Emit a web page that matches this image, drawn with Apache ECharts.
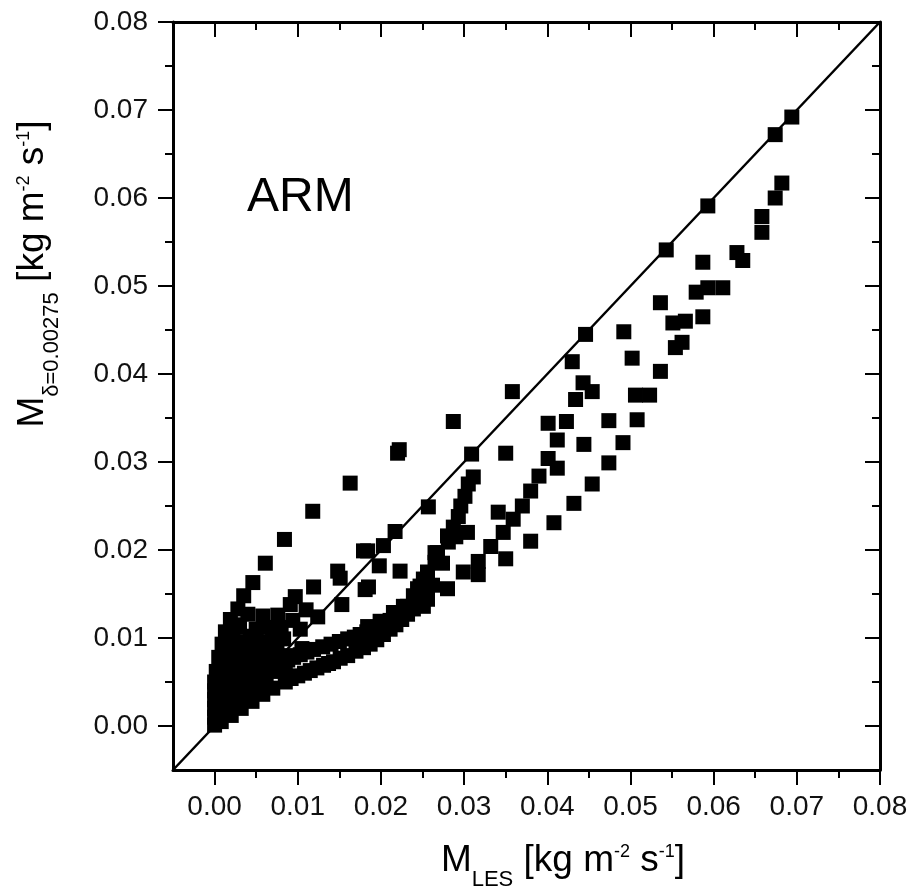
<!DOCTYPE html>
<html>
<head>
<meta charset="utf-8">
<title>ARM scatter</title>
<script src="https://cdn.jsdelivr.net/npm/echarts@6/dist/echarts.min.js"></script>
<style>
  html, body { margin: 0; padding: 0; background: #fff; }
  #chart { width: 913px; height: 892px; }
</style>
</head>
<body>
<div id="chart"></div>
<script>
// tick values (both axes)
var tickValues = [0, 0.01, 0.02, 0.03, 0.04, 0.05, 0.06, 0.07, 0.08];
var minorTickValues = [0.005, 0.015, 0.025, 0.035, 0.045, 0.055, 0.065, 0.075];
// 1:1 line end points
var lineEnds = [[-0.005, -0.005], [0.08, 0.08]];

// upper branch (above the 1:1 line)
var upperBranch = [
  [0.0002, 0.0062], [0.0005, 0.0078], [0.0009, 0.0093], [0.0013, 0.0107], [0.0019, 0.0121],
  [0.0028, 0.0133], [0.0035, 0.0148], [0.0046, 0.0163], [0.0061, 0.0185], [0.0084, 0.0212],
  [0.0118, 0.0244], [0.0163, 0.0276], [0.0220, 0.0310], [0.0222, 0.0314], [0.0287, 0.0346],
  [0.0358, 0.0380]
];
// points lying on the 1:1 line
var onLine = [
  [0.0124, 0.0124], [0.0217, 0.0221], [0.0257, 0.0249], [0.0309, 0.0309], [0.0446, 0.0445],
  [0.0543, 0.0541], [0.0593, 0.0591], [0.0674, 0.0672], [0.0694, 0.0692]
];
// scattered points near the line at small values
var nearLine = [
  [0.0035, 0.0095], [0.0043, 0.0102], [0.0050, 0.0110], [0.0058, 0.0125], [0.0076, 0.0126],
  [0.0091, 0.0138], [0.0097, 0.0147], [0.0119, 0.0158], [0.0148, 0.0176], [0.0153, 0.0138],
  [0.0151, 0.0168], [0.0179, 0.0199], [0.0184, 0.0199], [0.0203, 0.0205], [0.0198, 0.0182],
  [0.0223, 0.0176], [0.0185, 0.0158], [0.0181, 0.0155], [0.0052, 0.0076], [0.0067, 0.0087],
  [0.0083, 0.0099], [0.0103, 0.0110], [0.0045, 0.0060], [0.0058, 0.0066], [0.0072, 0.0072],
  [0.0088, 0.0080], [0.0105, 0.0088], [0.0030, 0.0115], [0.0040, 0.0127], [0.0065, 0.0112],
  [0.0070, 0.0098], [0.0060, 0.0088], [0.0080, 0.0112], [0.0094, 0.0120], [0.0110, 0.0132]
];
// steep middle band
var steepBand = [
  [0.0184, 0.0113], [0.0199, 0.0119], [0.0215, 0.0129], [0.0227, 0.0136], [0.0239, 0.0148],
  [0.0247, 0.0159], [0.0280, 0.0156], [0.0256, 0.0175], [0.0265, 0.0186], [0.0265, 0.0197],
  [0.0281, 0.0209], [0.0287, 0.0226], [0.0304, 0.0220], [0.0293, 0.0238], [0.0296, 0.0250],
  [0.0301, 0.0261], [0.0305, 0.0275], [0.0311, 0.0283], [0.0251, 0.0167], [0.0244, 0.0156],
  [0.0251, 0.0136], [0.0232, 0.0136], [0.0256, 0.0144], [0.0268, 0.0197], [0.0280, 0.0216],
  [0.0262, 0.0160], [0.0274, 0.0185], [0.0290, 0.0215]
];
// lower band, upper row
var lowerBandTop = [
  [0.0018, 0.0014], [0.0030, 0.0022], [0.0040, 0.0030], [0.0050, 0.0040], [0.0062, 0.0050],
  [0.0076, 0.0062], [0.0088, 0.0075], [0.0103, 0.0081], [0.0119, 0.0087], [0.0140, 0.0093],
  [0.0160, 0.0099], [0.0175, 0.0104], [0.0191, 0.0110], [0.0211, 0.0120], [0.0221, 0.0127],
  [0.0095, 0.0078], [0.0111, 0.0084], [0.0130, 0.0090], [0.0150, 0.0096], [0.0168, 0.0101],
  [0.0183, 0.0107], [0.0201, 0.0115]
];
// lower band, lower row
var lowerBandBottom = [
  [0.0000, 0.0001], [0.0008, 0.0005], [0.0020, 0.0012], [0.0032, 0.0020], [0.0045, 0.0028],
  [0.0058, 0.0036], [0.0070, 0.0043], [0.0085, 0.0050], [0.0100, 0.0057], [0.0115, 0.0063],
  [0.0131, 0.0069], [0.0143, 0.0073], [0.0160, 0.0080], [0.0179, 0.0089], [0.0195, 0.0098],
  [0.0211, 0.0110], [0.0225, 0.0121], [0.0239, 0.0133], [0.0092, 0.0054], [0.0108, 0.0060],
  [0.0123, 0.0066], [0.0137, 0.0071], [0.0151, 0.0077], [0.0170, 0.0085], [0.0187, 0.0093],
  [0.0203, 0.0104], [0.0218, 0.0115], [0.0232, 0.0127]
];
// dense cluster close to the origin
var originCluster = [
  [0.0000, 0.0010], [0.0000, 0.0020], [0.0000, 0.0030], [0.0000, 0.0040], [0.0000, 0.0050],
  [0.0007, 0.0015], [0.0007, 0.0028], [0.0007, 0.0042], [0.0007, 0.0056], [0.0007, 0.0068],
  [0.0014, 0.0020], [0.0014, 0.0035], [0.0014, 0.0050], [0.0014, 0.0065], [0.0014, 0.0080],
  [0.0014, 0.0095], [0.0022, 0.0025], [0.0022, 0.0040], [0.0022, 0.0055], [0.0022, 0.0070],
  [0.0022, 0.0085], [0.0022, 0.0105], [0.0031, 0.0030], [0.0031, 0.0045], [0.0031, 0.0060],
  [0.0031, 0.0075], [0.0031, 0.0090], [0.0040, 0.0038], [0.0040, 0.0052], [0.0040, 0.0066],
  [0.0040, 0.0080], [0.0050, 0.0047], [0.0050, 0.0060], [0.0050, 0.0072], [0.0050, 0.0088],
  [0.0060, 0.0055], [0.0060, 0.0095], [0.0070, 0.0064], [0.0070, 0.0105], [0.0080, 0.0070],
  [0.0045, 0.0092], [0.0055, 0.0078], [0.0065, 0.0075], [0.0075, 0.0085], [0.0085, 0.0065],
  [0.0026, 0.0112], [0.0018, 0.0100], [0.0010, 0.0082]
];
// lower right branch
var lowerRight = [
  [0.0299, 0.0175], [0.0317, 0.0172], [0.0317, 0.0187], [0.0332, 0.0204], [0.0350, 0.0190],
  [0.0347, 0.0220], [0.0380, 0.0210], [0.0408, 0.0231], [0.0432, 0.0253], [0.0454, 0.0275],
  [0.0474, 0.0299], [0.0491, 0.0322], [0.0474, 0.0347], [0.0508, 0.0348], [0.0506, 0.0376],
  [0.0523, 0.0376], [0.0536, 0.0403], [0.0554, 0.0430], [0.0562, 0.0436], [0.0587, 0.0465],
  [0.0551, 0.0458], [0.0566, 0.0460], [0.0593, 0.0498], [0.0611, 0.0498], [0.0579, 0.0493],
  [0.0628, 0.0538], [0.0635, 0.0529], [0.0658, 0.0561], [0.0658, 0.0579], [0.0674, 0.0600],
  [0.0682, 0.0617]
];
// middle right branch
var middleRight = [
  [0.0341, 0.0243], [0.0359, 0.0235], [0.0370, 0.0250], [0.0380, 0.0267], [0.0390, 0.0284],
  [0.0401, 0.0304], [0.0412, 0.0293], [0.0412, 0.0325], [0.0444, 0.0320], [0.0401, 0.0344],
  [0.0423, 0.0346], [0.0434, 0.0371], [0.0443, 0.0390], [0.0454, 0.0380], [0.0430, 0.0414],
  [0.0492, 0.0448], [0.0502, 0.0418], [0.0536, 0.0481], [0.0587, 0.0527], [0.0350, 0.0310]
];

var FONT = "'Liberation Sans', Arial, sans-serif";

function axisSet(dim, pos, values, len, inside, withLine, withLabel) {
  return {
    type: 'value',
    position: pos,
    min: -0.005,
    max: 0.08,
    splitLine: { show: false },
    axisLine: { show: withLine, onZero: false, lineStyle: { color: '#000', width: 3 } },
    axisTick: {
      show: true, inside: inside, length: len, customValues: values,
      lineStyle: { color: '#000', width: 2 }
    },
    axisLabel: {
      show: withLabel,
      customValues: values,
      margin: dim === 'x' ? 23 : 25,
      color: '#111',
      fontFamily: FONT,
      fontSize: 28,
      formatter: function (v) { return v.toFixed(2); }
    }
  };
}

var titleRich = {
  m: { fontSize: 37, fontFamily: FONT, color: '#000', lineHeight: 60 },
  sub: { fontSize: 22, fontFamily: FONT, color: '#000', verticalAlign: 'bottom' },
  sup: { fontSize: 18, fontFamily: FONT, color: '#000', height: 43, verticalAlign: 'top' }
};

function sq(name, data) {
  return {
    name: name, type: 'scatter', data: data,
    symbol: 'rect', symbolSize: 15,
    itemStyle: { color: '#000', opacity: 1 }
  };
}

var chart = echarts.init(document.getElementById('chart'));
chart.setOption({
  animation: false,
  backgroundColor: '#fff',
  grid: { left: 173, right: 33, top: 22, bottom: 122, containLabel: false },
  xAxis: [
    axisSet('x', 'bottom', tickValues, 15, false, true, true),
    axisSet('x', 'bottom', minorTickValues, 8, false, false, false),
    axisSet('x', 'top', tickValues, 15, true, true, false),
    axisSet('x', 'top', minorTickValues, 8, true, false, false)
  ],
  yAxis: [
    axisSet('y', 'left', tickValues, 15, false, true, true),
    axisSet('y', 'left', minorTickValues, 8, false, false, false),
    axisSet('y', 'right', tickValues, 15, true, true, false),
    axisSet('y', 'right', minorTickValues, 8, true, false, false)
  ],
  graphic: [
    {
      type: 'text', x: 247, y: 198,
      style: { text: 'ARM', fontSize: 48, fontFamily: FONT, fill: '#000', align: 'left', verticalAlign: 'middle' }
    },
    {
      type: 'text', x: 563, y: 861,
      style: {
        text: '{m|M}{sub|LES}{m| [kg m}{sup|-2}{m| s}{sup|-1}{m|]}',
        rich: titleRich, align: 'center', verticalAlign: 'middle'
      }
    },
    {
      type: 'text', x: 33, y: 274, rotation: Math.PI / 2,
      style: {
        text: '{m|M}{sub|δ=0.00275}{m| [kg m}{sup|-2}{m| s}{sup|-1}{m|]}',
        rich: titleRich, align: 'center', verticalAlign: 'middle'
      }
    }
  ],
  series: [
    {
      name: '1:1', type: 'line', data: lineEnds, symbol: 'none',
      lineStyle: { color: '#000', width: 2.5 }, z: 1
    },
    sq('upper', upperBranch),
    sq('line', onLine),
    sq('near', nearLine),
    sq('steep', steepBand),
    sq('lowTop', lowerBandTop),
    sq('lowBottom', lowerBandBottom),
    sq('origin', originCluster),
    sq('lowerRight', lowerRight),
    sq('middleRight', middleRight)
  ]
});
</script>
</body>
</html>
